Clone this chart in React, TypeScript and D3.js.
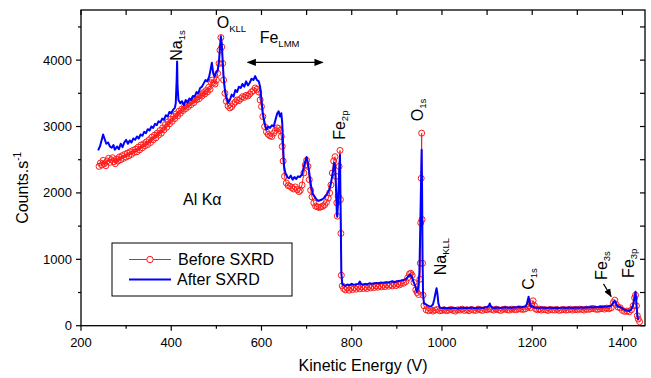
import * as d3 from 'd3';

// XPS survey spectrum, Al Kα source
const xTicks = [200, 400, 600, 800, 1000, 1200, 1400];
const xMinor = [300, 500, 700, 900, 1100, 1300];
const yTicks = [0, 1000, 2000, 3000, 4000];
const yMinor = [500, 1500, 2500, 3500, 4500];

// [kinetic energy (V), counts/s]
const beforeSXRD: [number, number][] = [
  [240, 2400], [243, 2450], [246, 2420], [249, 2490], [252, 2440], [255, 2410], [258, 2480], [261, 2520],
  [264, 2460], [267, 2500], [270, 2530], [273, 2470], [276, 2440], [279, 2510], [282, 2480], [285, 2540],
  [288, 2500], [291, 2560], [294, 2520], [297, 2580], [300, 2540], [303, 2600], [306, 2560], [309, 2620],
  [312, 2580], [315, 2640], [318, 2610], [321, 2660], [324, 2620], [327, 2690], [330, 2650], [333, 2720],
  [336, 2680], [339, 2740], [342, 2710], [345, 2770], [348, 2730], [351, 2800], [354, 2760], [357, 2840],
  [360, 2800], [363, 2870], [366, 2830], [369, 2900], [372, 2870], [375, 2940], [378, 2900], [381, 2980],
  [384, 2950], [387, 3030], [390, 2990], [393, 3070], [396, 3040], [399, 3110], [402, 3080], [405, 3150],
  [408, 3120], [411, 3190], [414, 3160], [417, 3230], [420, 3200], [423, 3260], [426, 3240], [429, 3300],
  [432, 3270], [435, 3330], [438, 3300], [441, 3360], [444, 3330], [447, 3390], [450, 3360], [453, 3420],
  [456, 3400], [459, 3450], [462, 3420], [465, 3480], [468, 3460], [471, 3510], [474, 3490], [477, 3540],
  [480, 3520], [483, 3590], [486, 3560], [489, 3660], [491, 3700], [494, 3660], [497, 3640], [500, 3700],
  [503, 3800], [506, 3950], [508, 4150], [510, 4340], [512, 4200], [514, 3950], [516, 3700], [519, 3500],
  [522, 3380], [526, 3310], [530, 3280], [534, 3300], [538, 3340], [542, 3370], [546, 3400], [550, 3390],
  [554, 3420], [558, 3450], [562, 3440], [566, 3470], [570, 3460], [574, 3490], [578, 3520], [582, 3540],
  [586, 3580], [590, 3560], [594, 3520], [597, 3400], [600, 3300], [603, 3150], [607, 3000], [611, 2920],
  [615, 2880], [619, 2860], [623, 2850], [627, 2900], [631, 2940], [635, 2980], [638, 2970], [641, 2940],
  [644, 2850], [646, 2700], [648, 2480], [651, 2250], [655, 2150], [659, 2110], [663, 2100], [667, 2080],
  [671, 2060], [675, 2090], [679, 2050], [683, 2020], [686, 2040], [690, 2120], [694, 2300], [697, 2420],
  [700, 2490], [703, 2400], [706, 2200], [709, 2040], [712, 1940], [716, 1850], [720, 1800], [724, 1790],
  [728, 1780], [732, 1790], [736, 1800], [740, 1820], [744, 1860], [748, 1920], [751, 2000], [754, 2120],
  [757, 2300], [760, 2480], [763, 2545], [765, 2250], [767, 1850], [768, 1650], [770, 1950], [772, 2400],
  [774, 2640], [775, 1900], [776, 1390], [777, 760], [779, 600], [782, 560], [786, 540], [790, 570],
  [794, 535], [798, 565], [802, 545], [806, 575], [810, 550], [814, 580], [818, 555], [822, 585],
  [826, 560], [830, 580], [834, 560], [838, 590], [842, 570], [846, 595], [850, 575], [854, 600],
  [858, 580], [862, 605], [866, 585], [870, 610], [874, 590], [878, 615], [882, 595], [886, 620],
  [890, 600], [894, 625], [898, 605], [902, 630], [906, 615], [910, 640], [915, 640], [920, 665],
  [924, 720], [928, 780], [931, 790], [934, 760], [938, 650], [942, 540], [945, 500], [948, 470],
  [951, 700], [952, 940], [953, 1550], [954, 2220], [955, 2900], [956, 1600], [957, 940], [958, 460],
  [960, 300], [965, 240], [970, 225], [975, 240], [980, 220], [985, 235], [990, 245], [995, 225],
  [1000, 230], [1005, 240], [1010, 225], [1015, 235], [1020, 245], [1025, 230], [1030, 220], [1035, 240],
  [1040, 235], [1045, 250], [1050, 230], [1055, 240], [1060, 225], [1065, 245], [1070, 235], [1075, 230],
  [1080, 250], [1085, 240], [1090, 230], [1095, 245], [1100, 240], [1105, 255], [1110, 245], [1115, 235],
  [1120, 250], [1125, 240], [1130, 230], [1135, 245], [1140, 250], [1145, 240], [1150, 235], [1155, 250],
  [1160, 245], [1165, 240], [1170, 255], [1175, 250], [1180, 245], [1185, 255], [1190, 280], [1193, 300],
  [1196, 270], [1199, 330], [1202, 375], [1205, 300], [1208, 250], [1212, 240], [1216, 250], [1220, 235],
  [1225, 245], [1230, 240], [1235, 230], [1240, 245], [1245, 240], [1250, 235], [1255, 245], [1260, 230],
  [1265, 240], [1270, 245], [1275, 235], [1280, 240], [1285, 250], [1290, 235], [1295, 245], [1300, 240],
  [1305, 250], [1310, 245], [1315, 235], [1320, 250], [1325, 245], [1330, 255], [1335, 260], [1340, 250],
  [1345, 245], [1350, 255], [1355, 260], [1360, 250], [1365, 265], [1370, 255], [1375, 270], [1380, 350],
  [1383, 385], [1386, 320], [1390, 280], [1395, 270], [1400, 230], [1405, 215], [1410, 220], [1415, 210],
  [1420, 240], [1424, 300], [1427, 420], [1429, 460], [1431, 300], [1433, 150], [1435, 100], [1438, 60],
];

const afterSXRD: [number, number][] = [
  [238, 2640], [242, 2700], [246, 2800], [249, 2880], [252, 2820], [256, 2740], [260, 2760], [264, 2700],
  [268, 2680], [272, 2720], [275, 2650], [280, 2700], [284, 2660], [288, 2740], [292, 2690], [296, 2760],
  [300, 2800], [304, 2740], [308, 2790], [312, 2760], [316, 2820], [320, 2800], [324, 2850], [328, 2820],
  [332, 2880], [336, 2860], [340, 2920], [344, 2900], [348, 2960], [352, 2940], [356, 3000], [360, 2980],
  [364, 3040], [368, 3020], [372, 3080], [376, 3060], [380, 3120], [384, 3100], [388, 3170], [392, 3150],
  [396, 3220], [400, 3200], [404, 3250], [408, 3280], [410, 3350], [412, 3700], [413, 3980], [414, 3600],
  [416, 3400], [420, 3350], [424, 3380], [428, 3320], [432, 3400], [436, 3360], [440, 3420], [444, 3400],
  [448, 3460], [452, 3450], [456, 3520], [460, 3500], [464, 3580], [468, 3600], [472, 3650], [476, 3700],
  [480, 3680], [484, 3750], [487, 3850], [490, 3960], [493, 3800], [496, 3750], [500, 3820], [503, 3850],
  [506, 4000], [508, 4200], [510, 4360], [512, 4250], [514, 4000], [516, 3750], [519, 3550], [522, 3450],
  [526, 3360], [530, 3400], [534, 3480], [538, 3450], [542, 3550], [546, 3520], [550, 3600], [554, 3580],
  [558, 3640], [562, 3600], [566, 3680], [570, 3620], [574, 3660], [578, 3720], [582, 3700], [586, 3760],
  [590, 3700], [594, 3680], [597, 3600], [600, 3400], [603, 3200], [607, 3050], [611, 2950], [615, 3000],
  [619, 2980], [623, 3020], [627, 3000], [631, 3100], [635, 3200], [638, 3230], [641, 3150], [644, 3200],
  [646, 3050], [648, 2700], [650, 2400], [653, 2300], [657, 2240], [661, 2220], [665, 2260], [669, 2200],
  [673, 2240], [677, 2210], [681, 2250], [685, 2240], [690, 2280], [694, 2400], [698, 2500], [700, 2540],
  [703, 2450], [706, 2300], [710, 2100], [714, 1980], [718, 1940], [722, 1900], [726, 1880], [730, 1890],
  [734, 1900], [738, 1920], [742, 1960], [746, 1990], [750, 2050], [754, 2150], [758, 2300], [761, 2450],
  [763, 2420], [765, 2100], [767, 1700], [768, 1640], [770, 1900], [772, 2300], [774, 2570], [775, 2000],
  [776, 1400], [777, 800], [779, 630], [782, 610], [786, 600], [790, 620], [795, 610], [800, 630],
  [805, 615], [810, 625], [815, 630], [818, 665], [821, 625], [825, 620], [830, 630], [835, 625],
  [840, 640], [845, 630], [850, 640], [855, 645], [860, 640], [865, 650], [870, 645], [875, 655],
  [880, 650], [885, 660], [890, 670], [895, 655], [900, 670], [905, 675], [910, 680], [915, 690],
  [920, 700], [925, 740], [929, 770], [933, 740], [937, 660], [941, 600], [944, 512], [947, 560],
  [950, 800], [952, 1500], [954, 2300], [955, 2650], [956, 2000], [957, 1000], [958, 500], [960, 340],
  [964, 320], [968, 305], [972, 295], [976, 290], [980, 320], [983, 400], [986, 500], [988, 565],
  [990, 480], [992, 340], [995, 275], [1000, 265], [1005, 270], [1010, 260], [1015, 268], [1020, 262],
  [1025, 270], [1030, 265], [1035, 258], [1040, 268], [1045, 272], [1050, 262], [1055, 270], [1060, 265],
  [1065, 275], [1070, 268], [1075, 262], [1080, 272], [1085, 270], [1090, 265], [1095, 275], [1100, 280],
  [1104, 300], [1106, 335], [1108, 295], [1112, 272], [1116, 268], [1120, 275], [1125, 270], [1130, 265],
  [1135, 272], [1140, 278], [1145, 270], [1150, 275], [1155, 268], [1160, 278], [1165, 275], [1170, 282],
  [1175, 276], [1180, 285], [1185, 290], [1188, 320], [1190, 380], [1192, 437], [1194, 360], [1196, 300],
  [1200, 290], [1205, 275], [1210, 270], [1215, 268], [1220, 275], [1225, 270], [1230, 265], [1235, 272],
  [1240, 270], [1245, 266], [1250, 272], [1255, 268], [1260, 265], [1265, 272], [1270, 270], [1275, 268],
  [1280, 274], [1285, 270], [1290, 268], [1295, 275], [1300, 272], [1305, 270], [1310, 276], [1315, 272],
  [1320, 278], [1325, 275], [1330, 280], [1335, 276], [1340, 282], [1345, 278], [1350, 285], [1355, 280],
  [1360, 288], [1365, 284], [1370, 292], [1375, 300], [1379, 340], [1382, 372], [1385, 350], [1388, 300],
  [1392, 285], [1396, 280], [1400, 260], [1405, 236], [1410, 228], [1415, 222], [1419, 240], [1423, 300],
  [1426, 400], [1429, 512], [1431, 350], [1433, 150], [1435, 86],
];

// peak labels: [main, subscript, energy, counts] (rotated ones read upward)
const rotatedLabels: [string, string, number, number][] = [
  ['Na', '1s', 424, 3990],
  ['Fe', '2p', 785, 2800],
  ['O', '1s', 958, 3080],
  ['Na', 'KLL', 1009, 760],
  ['C', '1s', 1203, 540],
  ['Fe', '3s', 1365, 690],
  ['Fe', '3p', 1425, 720],
];
const flatLabels: [string, string, number, number][] = [
  ['O', 'KLL', 501, 4480],
  ['Fe', 'LMM', 596, 4255],
];
const lmmRange = [565, 740];
const lmmArrowY = 3965;
const fe3sArrow = [[1358, 630], [1375, 440]];

const W = 651;
const H = 378;
const FONT = "'Liberation Sans', Arial, Helvetica, sans-serif";

export default function App() {
  const x = d3.scaleLinear().domain([200, 1450]).range([81, 645]);
  const y = d3.scaleLinear().domain([0, 4755]).range([325.7, 10]);
  const [x0, x1] = x.range();
  const [y0, y1] = y.range();

  const line = d3.line<[number, number]>()
    .x((d) => x(d[0]))
    .y((d) => y(d[1]));

  const red = '#ff1a1a';
  const blue = '#0000ff';

  return (
    <svg width={W} height={H} style={{ position: 'absolute', left: 0, top: 0, display: 'block', background: '#fff' }}
      fontFamily={FONT}>
      <defs>
        <marker id="ah" viewBox="0 0 10 10" refX="9" refY="5" markerWidth="7" markerHeight="7" orient="auto-start-reverse">
          <path d="M0,1 L10,5 L0,9 Z" fill="#000" />
        </marker>
      </defs>

      {/* data */}
      <path d={line(beforeSXRD) ?? ''} fill="none" stroke={red} strokeWidth={1} />
      <g fill="none" stroke={red} strokeWidth={1}>
        {beforeSXRD.map((d, i) => (
          <circle key={i} cx={x(d[0])} cy={y(d[1])} r={3} />
        ))}
      </g>
      <path d={line(afterSXRD) ?? ''} fill="none" stroke={blue} strokeWidth={2} strokeLinejoin="round" />

      {/* frame */}
      <rect x={x0} y={y1} width={x1 - x0} height={y0 - y1} fill="none" stroke="#000" strokeWidth={1.3} />

      {/* ticks */}
      <g stroke="#000" strokeWidth={1.2}>
        {xTicks.map((t) => <line key={'b' + t} x1={x(t)} x2={x(t)} y1={y0} y2={y0 + 5} />)}
        {xMinor.map((t) => <line key={'bm' + t} x1={x(t)} x2={x(t)} y1={y0} y2={y0 + 3} />)}
        {[...xTicks, ...xMinor].map((t) => <line key={'t' + t} x1={x(t)} x2={x(t)} y1={y1} y2={y1 + 5} />)}
        {yTicks.map((t) => <line key={'l' + t} x1={x0 - 5} x2={x0} y1={y(t)} y2={y(t)} />)}
        {yMinor.map((t) => <line key={'lm' + t} x1={x0 - 3} x2={x0} y1={y(t)} y2={y(t)} />)}
        {[...yTicks, ...yMinor].map((t) => <line key={'r' + t} x1={x1 - 5} x2={x1} y1={y(t)} y2={y(t)} />)}
      </g>
      <g fontSize={13} fill="#000">
        {xTicks.map((t) => (
          <text key={t} x={x(t)} y={y0 + 21} textAnchor="middle">{t}</text>
        ))}
        {yTicks.map((t) => (
          <text key={t} x={x0 - 9} y={y(t) + 4.5} textAnchor="end">{t}</text>
        ))}
      </g>

      {/* axis titles */}
      <text x={(x0 + x1) / 2} y={371} textAnchor="middle" fontSize={16}>Kinetic Energy (V)</text>
      <text transform={`translate(28, ${(y0 + y1) / 2 + 20}) rotate(-90)`} textAnchor="middle" fontSize={16}>
        Counts.s<tspan fontSize={10} dy={-7}>-1</tspan>
      </text>

      {/* peak annotations */}
      {rotatedLabels.map(([m, s, e, c]) => (
        <text key={m + s + e} transform={`translate(${x(e)}, ${y(c)}) rotate(-90)`} fontSize={16}>
          {m}<tspan fontSize={9.5} dy={3}>{s}</tspan>
        </text>
      ))}
      {flatLabels.map(([m, s, e, c]) => (
        <text key={m + s} x={x(e)} y={y(c)} fontSize={16}>
          {m}<tspan fontSize={9.5} dy={4}>{s}</tspan>
        </text>
      ))}
      <line x1={x(lmmRange[0]) + 2} x2={x(lmmRange[1]) - 2} y1={y(lmmArrowY)} y2={y(lmmArrowY)}
        stroke="#000" strokeWidth={1.3} markerStart="url(#ah)" markerEnd="url(#ah)" />
      <line x1={x(fe3sArrow[0][0])} y1={y(fe3sArrow[0][1])} x2={x(fe3sArrow[1][0])} y2={y(fe3sArrow[1][1])}
        stroke="#000" strokeWidth={1.2} markerEnd="url(#ah)" />
      <text x={x(426)} y={y(1817)} fontSize={16}>Al K&#945;</text>

      {/* legend */}
      <g>
        <rect x={112} y={243} width={180} height={53} fill="#fff" stroke="#000" strokeWidth={1} />
        <line x1={129} x2={171} y1={259.5} y2={259.5} stroke={red} strokeWidth={1} />
        <circle cx={150} cy={259.5} r={3.2} fill="#fff" stroke={red} strokeWidth={1} />
        <text x={178} y={265} fontSize={16}>Before SXRD</text>
        <line x1={129} x2={171} y1={279.5} y2={279.5} stroke={blue} strokeWidth={2} />
        <text x={177} y={285} fontSize={16}>After SXRD</text>
      </g>
    </svg>
  );
}
